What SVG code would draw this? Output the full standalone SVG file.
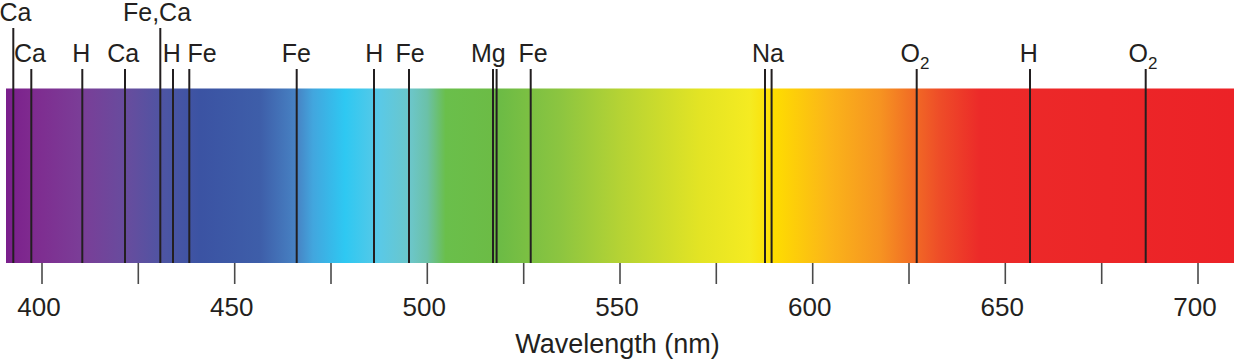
<svg xmlns="http://www.w3.org/2000/svg" width="1234" height="362" viewBox="0 0 1234 362">
  <defs>
    <linearGradient id="spec" gradientUnits="userSpaceOnUse" x1="6" y1="0" x2="1234" y2="0">
      <stop offset="0" stop-color="#7a1f8c"/>
      <stop offset="0.02" stop-color="#7f2a8f"/>
      <stop offset="0.06" stop-color="#7b3d97"/>
      <stop offset="0.1" stop-color="#664d9e"/>
      <stop offset="0.13" stop-color="#4c55a3"/>
      <stop offset="0.158" stop-color="#3b53a3"/>
      <stop offset="0.207" stop-color="#3e5ea9"/>
      <stop offset="0.237" stop-color="#4783c4"/>
      <stop offset="0.25" stop-color="#42a6de"/>
      <stop offset="0.276" stop-color="#2ec8f2"/>
      <stop offset="0.305" stop-color="#5ac9e6"/>
      <stop offset="0.33" stop-color="#6cc6c8"/>
      <stop offset="0.343" stop-color="#6bc1a8"/>
      <stop offset="0.358" stop-color="#6abf4b"/>
      <stop offset="0.402" stop-color="#6cbb45"/>
      <stop offset="0.451" stop-color="#8cc540"/>
      <stop offset="0.5" stop-color="#b5d334"/>
      <stop offset="0.565" stop-color="#e3e424"/>
      <stop offset="0.606" stop-color="#f5eb21"/>
      <stop offset="0.625" stop-color="#fedd00"/>
      <stop offset="0.67" stop-color="#fbb519"/>
      <stop offset="0.712" stop-color="#f69321"/>
      <stop offset="0.74" stop-color="#f16a25"/>
      <stop offset="0.76" stop-color="#ee4d28"/>
      <stop offset="0.793" stop-color="#ec2a29"/>
      <stop offset="1" stop-color="#ec2227"/>
    </linearGradient>
  </defs>
  <style>
    .line { stroke: #231f20; stroke-width: 2; fill: none; }
    .tick { stroke: #4a4a4a; stroke-width: 1.6; fill: none; }
    .lbl { font-family: "Liberation Sans", Arial, sans-serif; font-size: 25px; fill: #231f20; text-anchor: middle; }
    .sub { font-size: 17px; }
    .num { font-family: "Liberation Sans", Arial, sans-serif; font-size: 26px; fill: #231f20; text-anchor: middle; }
    .title { font-family: "Liberation Sans", Arial, sans-serif; font-size: 27px; fill: #231f20; text-anchor: middle; }
  </style>

  <g id="spectrum">
    <rect x="6" y="88.5" width="1228" height="174.5" fill="url(#spec)"/>
  </g>

  <g id="axis">
    <g id="ticks">
      <line class="tick" x1="42" y1="263" x2="42" y2="284"/>
      <line class="tick" x1="138.3" y1="263" x2="138.3" y2="284"/>
      <line class="tick" x1="234.7" y1="263" x2="234.7" y2="284"/>
      <line class="tick" x1="331" y1="263" x2="331" y2="284"/>
      <line class="tick" x1="427.3" y1="263" x2="427.3" y2="284"/>
      <line class="tick" x1="523.7" y1="263" x2="523.7" y2="284"/>
      <line class="tick" x1="620" y1="263" x2="620" y2="284"/>
      <line class="tick" x1="716.3" y1="263" x2="716.3" y2="284"/>
      <line class="tick" x1="812.7" y1="263" x2="812.7" y2="284"/>
      <line class="tick" x1="909" y1="263" x2="909" y2="284"/>
      <line class="tick" x1="1005.3" y1="263" x2="1005.3" y2="284"/>
      <line class="tick" x1="1101.7" y1="263" x2="1101.7" y2="284"/>
      <line class="tick" x1="1198" y1="263" x2="1198" y2="284"/>
    </g>
    <g id="tick-labels">
      <text class="num" x="39" y="316">400</text>
      <text class="num" x="231.7" y="316">450</text>
      <text class="num" x="424.3" y="316">500</text>
      <text class="num" x="617" y="316">550</text>
      <text class="num" x="809.7" y="316">600</text>
      <text class="num" x="1002.3" y="316">650</text>
      <text class="num" x="1195" y="316">700</text>
    </g>
    <text id="axis-title" class="title" x="617.5" y="353">Wavelength (nm)</text>
  </g>

  <g id="connectors">
    <line class="line" x1="13.3" y1="28" x2="13.3" y2="263"/>
    <line class="line" x1="31.3" y1="69" x2="31.3" y2="263"/>
    <line class="line" x1="82.3" y1="69" x2="82.3" y2="263"/>
    <line class="line" x1="125" y1="69" x2="125" y2="263"/>
    <line class="line" x1="160.3" y1="28" x2="160.3" y2="263"/>
    <line class="line" x1="173" y1="69" x2="173" y2="263"/>
    <line class="line" x1="189.3" y1="69" x2="189.3" y2="263"/>
    <line class="line" x1="296.7" y1="69" x2="296.7" y2="263"/>
    <line class="line" x1="374" y1="69" x2="374" y2="263"/>
    <line class="line" x1="409" y1="69" x2="409" y2="263"/>
    <line class="line" x1="493" y1="69" x2="493" y2="263"/>
    <line class="line" x1="496.6" y1="69" x2="496.6" y2="263"/>
    <line class="line" x1="530.7" y1="69" x2="530.7" y2="263"/>
    <line class="line" x1="765" y1="69" x2="765" y2="263"/>
    <line class="line" x1="771.6" y1="69" x2="771.6" y2="263"/>
    <line class="line" x1="916.7" y1="69" x2="916.7" y2="263"/>
    <line class="line" x1="1030" y1="69" x2="1030" y2="263"/>
    <line class="line" x1="1145.7" y1="69" x2="1145.7" y2="263"/>
  </g>

  <g id="label-Ca-393"><text class="lbl" x="15.5" y="21">Ca</text></g>
  <g id="label-Ca-397"><text class="lbl" x="30" y="62">Ca</text></g>
  <g id="label-H-410"><text class="lbl" x="81.3" y="62">H</text></g>
  <g id="label-Ca-422"><text class="lbl" x="123.3" y="62">Ca</text></g>
  <g id="label-FeCa-430"><text class="lbl" x="157" y="21">Fe,Ca</text></g>
  <g id="label-H-434"><text class="lbl" x="171.7" y="62">H</text></g>
  <g id="label-Fe-438"><text class="lbl" x="202" y="62">Fe</text></g>
  <g id="label-Fe-466"><text class="lbl" x="296.3" y="62">Fe</text></g>
  <g id="label-H-486"><text class="lbl" x="374.3" y="62">H</text></g>
  <g id="label-Fe-495"><text class="lbl" x="410" y="62">Fe</text></g>
  <g id="label-Mg-517"><text class="lbl" x="488.3" y="62">Mg</text></g>
  <g id="label-Fe-527"><text class="lbl" x="533" y="62">Fe</text></g>
  <g id="label-Na-589"><text class="lbl" x="768" y="62">Na</text></g>
  <g id="label-O2-627"><text class="lbl" x="915" y="62">O<tspan class="sub" dy="7">2</tspan></text></g>
  <g id="label-H-656"><text class="lbl" x="1028.7" y="62">H</text></g>
  <g id="label-O2-687"><text class="lbl" x="1143" y="62">O<tspan class="sub" dy="7">2</tspan></text></g>
</svg>
